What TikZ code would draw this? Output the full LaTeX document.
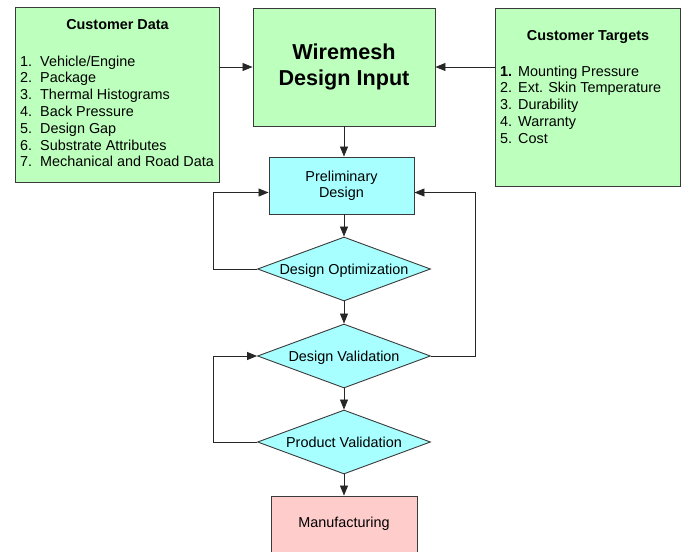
\documentclass[tikz,border=0pt]{standalone}
\usepackage{fontspec}
\setmainfont{Liberation Sans}
\usetikzlibrary{shapes.geometric,arrows.meta}
\definecolor{boxgreen}{HTML}{BDFFBD}
\definecolor{boxcyan}{HTML}{A8FFFF}
\definecolor{boxpink}{HTML}{FFCCCC}
\definecolor{edgegray}{HTML}{3A3A3A}
\begin{document}
\begin{tikzpicture}[x=1pt,y=-1pt,
  box/.style={draw=edgegray,line width=0.9pt,rectangle,inner sep=0pt},
  greenbox/.style={box,fill=boxgreen},
  cyanbox/.style={box,fill=boxcyan},
  pinkbox/.style={box,fill=boxpink},
  diam/.style={draw=edgegray,line width=0.9pt,fill=boxcyan,diamond,aspect=2.7,
    minimum width=173pt,minimum height=64pt,inner sep=0pt,
    text height=10.3pt,text depth=0pt,
    font=\fontsize{14.4}{16.8}\selectfont},
  arr/.style={draw=black!85,line width=0.8pt,-{Triangle[length=10pt,width=8pt]}},
  txt/.style={font=\fontsize{14.4}{16.8}\selectfont,inner sep=0pt,anchor=base west},
  btxt/.style={font={\fontsize{14.4}{16.8}\selectfont\bfseries},inner sep=0pt,anchor=base}
]
\useasboundingbox (0,0) rectangle (686,552);

% Customer Data
\node[greenbox,minimum width=204pt,minimum height=175pt] (cd) at (117,95) {};
\node[btxt] (cdtitle) at (117.5,29.5) {Customer Data};
\foreach \t [count=\i] in {Vehicle/Engine,Package,Thermal Histograms,Back Pressure,Design Gap,Substrate Attributes,Mechanical and Road Data}{
  \node[txt] (cdn\i) at (20,{66+16.8*(\i-1)}) {\i.};
  \node[txt] (cdi\i) at (40,{66+16.8*(\i-1)}) {\t};
}

% Customer Targets
\node[greenbox,minimum width=185pt,minimum height=178pt] (ct) at (587.5,97) {};
\node[btxt] (cttitle) at (588,40.5) {Customer Targets};
\foreach \n/\t [count=\i] in {{\textbf{1.}}/Mounting Pressure,2./Ext. Skin Temperature,3./Durability,4./Warranty,5./Cost}{
  \node[txt] (ctn\i) at (500,{76+16.75*(\i-1)}) {\n};
  \node[txt] (cti\i) at (518,{76+16.75*(\i-1)}) {\t};
}

% Wiremesh Design Input
\node[greenbox,minimum width=182pt,minimum height=118pt,align=center,
  font={\fontsize{21.6}{26}\selectfont\bfseries}] (wm) at (344,67) {Wiremesh\\Design Input};

% Preliminary Design
\node[cyanbox,minimum width=145pt,minimum height=57pt,align=center,
  font={\fontsize{14.4}{16}\selectfont}] (pd) at (341.5,185.5) {Preliminary\\Design};

% Decisions
\node[diam] (opt) at (344,269) {Design Optimization};
\node[diam] (dv) at (344,356) {Design Validation};
\node[diam] (pv) at (344,442) {Product Validation};

% Manufacturing
\node[pinkbox,minimum width=146pt,minimum height=64pt] (mf) at (344,528) {};
\node[txt,anchor=base] (mft) at (344,527.7) {Manufacturing};

% Connectors
\draw[arr] (cd.east |- wm.west) -- (wm.west);
\draw[arr] (ct.west |- wm.west) -- (wm.east);
\draw[arr] (wm.south) -- (wm.south |- pd.north);
\draw[arr] (pd.south -| opt.north) -- (opt.north);
\draw[arr] (opt.south) -- (dv.north);
\draw[arr] (dv.south) -- (pv.north);
\draw[arr] (pv.south) -- (mf.north);
\draw[arr] (opt.west) -- ++(-44,0) |- ([yshift=-7pt]pd.west);
\draw[arr] (dv.east) -- ++(44,0) |- ([yshift=-7pt]pd.east);
\draw[arr] (pv.west) -- ++(-44,0) |- (dv.west);
\end{tikzpicture}
\end{document}
